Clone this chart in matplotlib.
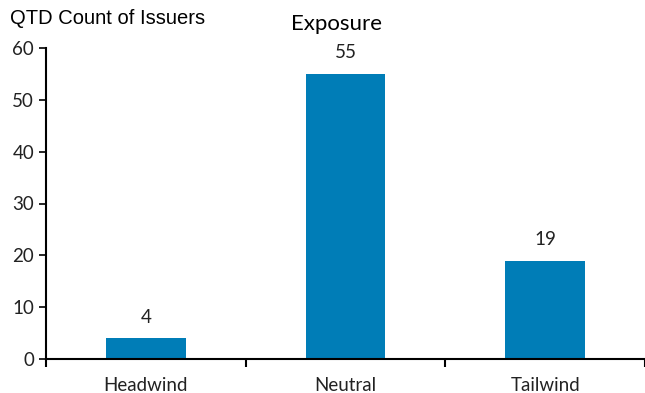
import matplotlib.pyplot as plt
import numpy as np

categories = ['Headwind', 'Neutral', 'Tailwind']
counts = [4, 55, 19]

plt.rcParams['font.family'] = 'Lato'
plt.rcParams['font.size'] = 13.5

fig = plt.figure(figsize=(6.45, 3.93), dpi=100)
ax = fig.add_axes([46 / 645, 1 - 359 / 393, 1 - 46 / 645, (359 - 48) / 393])

x = np.arange(len(categories))
bars = ax.bar(x, counts, width=0.4, color='#007DB7')
for xi, v in zip(x, counts):
    ax.annotate(str(v), (xi, v), xytext=(0, 9), textcoords='offset points',
                ha='center', va='bottom', fontsize=13.5, color='#222222')

ax.set_xlim(-0.5, 2.5)
ax.set_ylim(0, 60)
ax.set_yticks(range(0, 61, 10))
ax.set_xticks(x)
ax.set_xticklabels(categories, fontsize=13.5, color='#222222')
ax.set_xticks([-0.5, 0.5, 1.5, 2.5], minor=True)
ax.tick_params(axis='x', which='major', length=0, pad=13)
ax.tick_params(axis='x', which='minor', length=6, width=1.5, direction='out')
ax.tick_params(axis='y', length=5, width=1.2, labelsize=13.5, labelcolor='#222222')
for s in ['top', 'right']:
    ax.spines[s].set_visible(False)
ax.spines['left'].set_linewidth(1.5)
ax.spines['bottom'].set_linewidth(1.5)

fig.text(10 / 645, 1 - 19 / 393, 'QTD Count of Issuers', fontsize=14.5,
         family='Liberation Sans', va='center', ha='left')
fig.text(337 / 645, 1 - 24 / 393, 'Exposure', fontsize=16, va='center', ha='center')

fig.savefig('out.png', dpi=100)
